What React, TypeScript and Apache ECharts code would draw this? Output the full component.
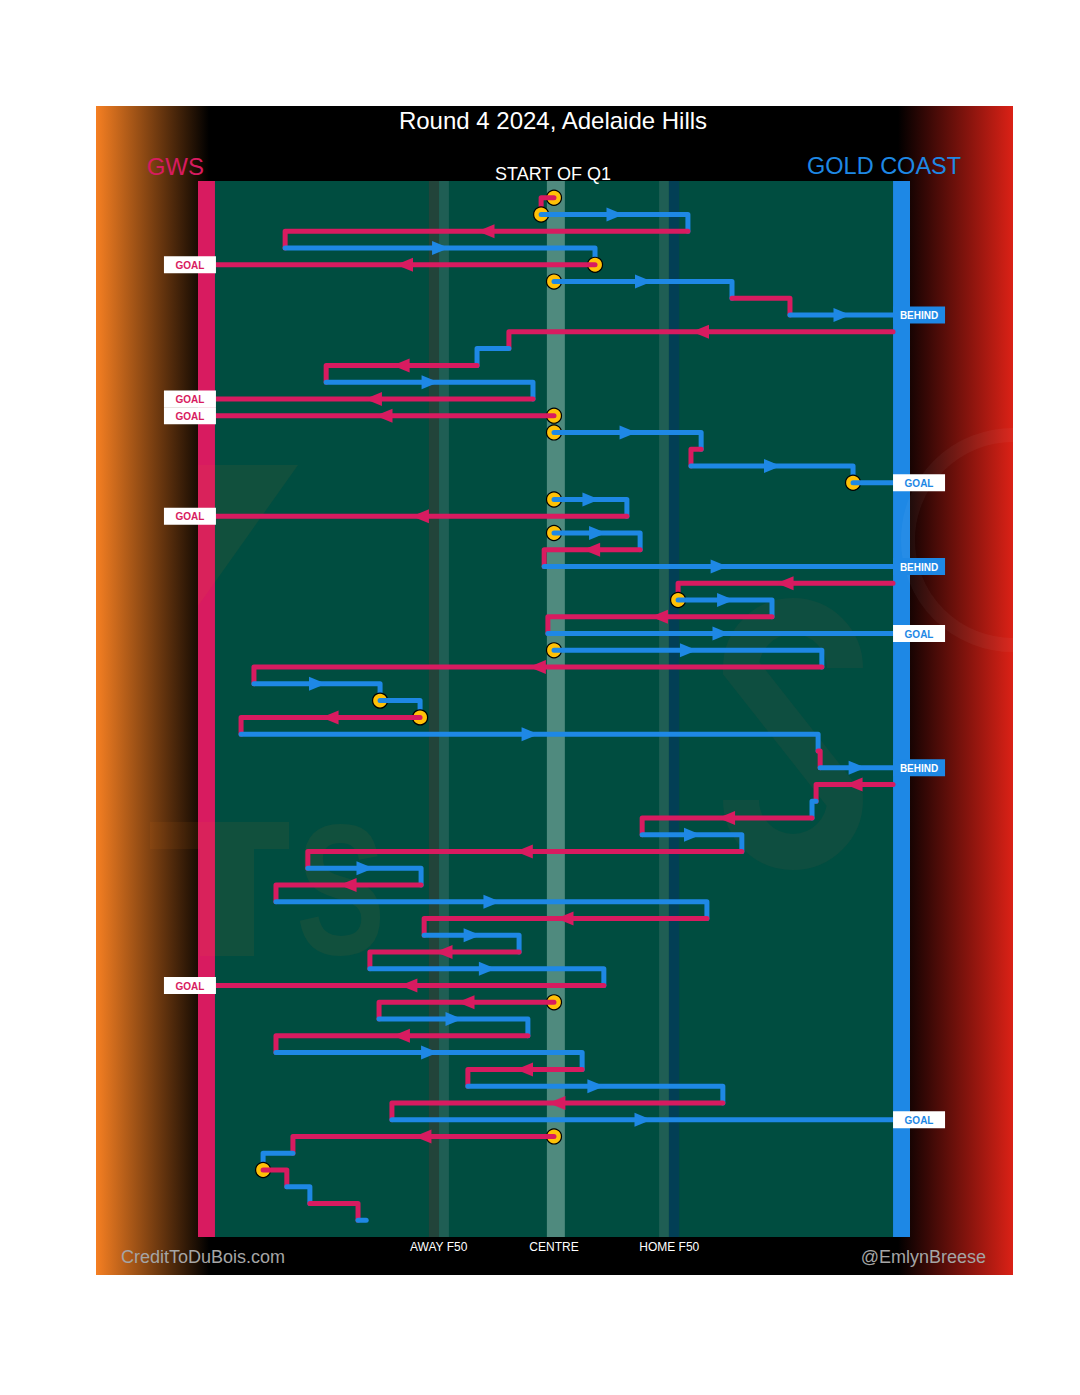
import React, { useEffect, useRef } from "react";
import * as echarts from "echarts";

// ---------- DATA ----------
// One possession segment per row (row = index + 1), x in % of half-field (-100 = GWS goal, 100 = Gold Coast goal)
const segTeam = [
  "GWS", "GCS", "GWS", "GCS", "GWS", "GCS", "GWS", "GCS", "GWS", "GCS",
  "GWS", "GCS", "GWS", "GWS", "GCS", "GWS", "GCS", "GCS", "GCS", "GWS",
  "GCS", "GWS", "GCS", "GWS", "GCS", "GWS", "GCS", "GCS", "GWS", "GCS",
  "GCS", "GWS", "GCS", "GWS", "GCS", "GWS", "GCS", "GWS", "GCS", "GWS",
  "GCS", "GWS", "GCS", "GWS", "GCS", "GWS", "GCS", "GWS", "GWS", "GCS",
  "GWS", "GCS", "GWS", "GCS", "GWS", "GCS", "GWS", "GCS", "GWS", "GCS",
  "GWS", "GCS",
];
const segFrom = [
  0, -3.8, 39.5, -79.3, 12.1, 0, 52.5, 69.6, 100, -13.3,
  -22.7, -67.2, -6.2, 0, 0, 43.4, 40.4, 88.2, 0, 21.5,
  0, 25.4, -2.9, 100, 36.6, 64.3, -1.8, 0, 79.0, -88.5,
  -51.3, -39.5, -92.3, 77.9, 78.5, 100, 77.3, 76.1, 26.0, 55.4,
  -72.6, -39.2, -82.0, 45.1, -38.3, -10.3, -54.3, 14.7, 0, -51.6,
  -7.7, -82.0, 8.3, -25.4, 49.8, -47.8, 0, -77.0, -85.8, -78.8,
  -72.0, -57.8,
];
const segTo = [
  -3.8, 39.5, -79.3, 12.1, -100, 52.5, 69.6, 100, -13.3, -22.7,
  -67.2, -6.2, -100, -100, 43.4, 40.4, 88.2, 100, 21.5, -100,
  25.4, -2.9, 100, 36.6, 64.3, -1.8, 100, 79.0, -88.5, -51.3,
  -39.5, -92.3, 77.9, 78.5, 100, 77.3, 76.1, 26.0, 55.4, -72.6,
  -39.2, -82.0, 45.1, -38.3, -10.3, -54.3, 14.7, -100, -51.6, -7.7,
  -82.0, 8.3, -25.4, 49.8, -47.8, 100, -77.0, -85.8, -78.8, -72.0,
  -57.8, -55.4,
];
const segResult = [
  "", "", "", "", "GOAL", "", "", "BEHIND", "", "",
  "", "", "GOAL", "GOAL", "", "", "", "GOAL", "", "GOAL",
  "", "", "BEHIND", "", "", "", "GOAL", "", "", "",
  "", "", "", "", "BEHIND", "", "", "", "", "",
  "", "", "", "", "", "", "", "GOAL", "", "",
  "", "", "", "", "", "GOAL", "", "", "", "",
  "", "",
];
// 1 = segment starts at a stoppage (centre bounce / ball-up)
const segStoppage = [
  1, 1, 0, 0, 1, 1, 0, 0, 0, 0,
  0, 0, 0, 1, 1, 0, 0, 1, 1, 0,
  1, 0, 0, 0, 1, 0, 0, 1, 0, 0,
  1, 1, 0, 0, 0, 0, 0, 0, 0, 0,
  0, 0, 0, 0, 0, 0, 0, 0, 1, 0,
  0, 0, 0, 0, 0, 0, 1, 0, 1, 0,
  0, 0,
];

const tickValues = [-34, 0, 34];
const tickLabels = ["AWAY F50", "CENTRE", "HOME F50"];

// field bands: background, end bars, F50 and centre stripes
const bandFrom = [-105, -105, -36.9, -33.9, -2.1, 31.0, 33.9, 100];
const bandTo = [105, -100, -33.9, -31.0, 3.2, 33.9, 36.9, 105];
const bandColor = ["#004D40", "#D81B60", "#22443A", "#1F5E54", "#4F8A7E", "#1F5E54", "#023F55", "#1E88E5"];

const TEAM_COLORS: Record<string, string> = { GWS: "#D81B60", GCS: "#1E88E5" };
const FONT = '"Liberation Sans", Arial, sans-serif';
const ROWS_MAX = 63;

const S_PATH = "M 845 668 A 52 52 0 0 0 741 668 L 845 800 A 52 52 0 0 1 741 800";

function txt(text: string, x: number, y: number, size: number, fill: string, align: string, weight = "normal") {
  return {
    type: "text",
    z: 5,
    style: {
      text, x, y, fill,
      font: `${weight} ${size}px ${FONT}`,
      align, textAlign: align,
      verticalAlign: "middle", textVerticalAlign: "middle",
    },
  };
}

export default function App() {
  const ref = useRef<HTMLDivElement>(null);

  useEffect(() => {
    const el = ref.current;
    if (!el) return;
    try {
      echarts.graphic.registerShape("sunsS", echarts.graphic.extendPath(S_PATH, {}) as any);
    } catch (e) {}
    const chart = echarts.init(el, null, { renderer: "svg" });

    const wmOrange = "rgba(244,123,32,0.07)";
    const wmSuns = "rgba(240,110,60,0.06)";

    const option: any = {
      animation: false,
      backgroundColor: "#ffffff",
      grid: { left: 198, right: 170, top: 181, bottom: 158, containLabel: false },
      xAxis: {
        type: "value",
        min: -105,
        max: 105,
        z: 10,
        axisLine: { show: false },
        axisTick: { show: false },
        splitLine: { show: false },
        axisLabel: {
          customValues: tickValues,
          formatter: (v: number) => {
            const idx = tickValues.indexOf(v);
            return idx >= 0 ? tickLabels[idx] : "";
          },
          color: "#ffffff",
          fontSize: 12,
          fontFamily: FONT,
          margin: 4,
        },
      },
      yAxis: { type: "value", inverse: true, min: 0, max: ROWS_MAX, show: false },
      graphic: [
        { type: "rect", z: 0, z2: 0, shape: { x: 96, y: 106, width: 917, height: 1169 }, style: { fill: "#000" } },
        {
          type: "rect", z: 0, z2: 1, shape: { x: 96, y: 106, width: 113, height: 1169 },
          style: { fill: { type: "linear", x: 0, y: 0, x2: 1, y2: 0, colorStops: [{ offset: 0, color: "#F57F22" }, { offset: 1, color: "#000000" }] } },
        },
        {
          type: "rect", z: 0, z2: 1, shape: { x: 898, y: 106, width: 115, height: 1169 },
          style: { fill: { type: "linear", x: 0, y: 0, x2: 1, y2: 0, colorStops: [{ offset: 0, color: "#000000" }, { offset: 1, color: "#DB2116" }] } },
        },
        // watermarks
        { type: "polygon", z: 2, shape: { points: [[198, 465], [298, 465], [198, 606]] }, style: { fill: wmOrange } },
        { type: "rect", z: 2, shape: { x: 150, y: 822, width: 139, height: 27 }, style: { fill: wmOrange } },
        { type: "rect", z: 2, shape: { x: 200, y: 849, width: 54, height: 107 }, style: { fill: wmOrange } },
        {
          type: "text", z: 2, scaleX: 0.72, x: 296, y: 889,
          style: { text: "S", x: 0, y: 0, fill: wmOrange, font: `bold 186px ${FONT}`, align: "left", textAlign: "left", verticalAlign: "middle", textVerticalAlign: "middle" },
        },
        {
          type: "arc", z: 2,
          shape: { cx: 1013, cy: 540, r: 105, startAngle: Math.PI / 2, endAngle: (Math.PI * 3) / 2 },
          style: { stroke: "rgba(255,255,255,0.04)", lineWidth: 14, fill: "none" },
        },
        { type: "sunsS", z: 2, style: { stroke: wmSuns, lineWidth: 36, fill: "none" } },
        // texts
        txt("Round 4 2024, Adelaide Hills", 553, 120, 24, "#ffffff", "center"),
        txt("GWS", 204, 166, 24, "#D81B60", "right"),
        txt("GOLD COAST", 807, 166, 23.5, "#1E88E5", "left"),
        txt("START OF Q1", 553, 174, 18, "#ffffff", "center"),
        txt("CreditToDuBois.com", 121, 1257, 18, "#A5A5A5", "left"),
        txt("@EmlynBreese", 986, 1257, 18, "#A5A5A5", "right"),
      ],
      series: [
        {
          type: "custom",
          name: "field",
          z: 1,
          silent: true,
          data: bandFrom.map((f, i) => [f, bandTo[i], 0, ROWS_MAX, i]),
          encode: { x: [0, 1], y: [2, 3] },
          renderItem: (params: any, api: any) => {
            const i = api.value(4) as number;
            const a = api.coord([api.value(0), api.value(2)]);
            const b = api.coord([api.value(1), api.value(3)]);
            return {
              type: "rect",
              z2: i,
              shape: {
                x: Math.min(a[0], b[0]),
                y: Math.min(a[1], b[1]),
                width: Math.abs(b[0] - a[0]),
                height: Math.abs(b[1] - a[1]),
              },
              style: { fill: bandColor[i] },
            };
          },
        },
        {
          type: "custom",
          name: "chain",
          z: 3,
          silent: true,
          data: segTeam.map((_, i) => [i + 1, segFrom[i], segTo[i], i]),
          encode: { x: [1, 2], y: 0 },
          renderItem: (params: any, api: any) => {
            const k = api.value(0) as number;
            const from = api.value(1) as number;
            const to = api.value(2) as number;
            const i = api.value(3) as number;
            const p0 = api.coord([from, k]);
            const p1 = api.coord([to, k]);
            const color = TEAM_COLORS[segTeam[i]];
            const children: any[] = [];
            if (segStoppage[i]) {
              children.push({
                type: "circle", z2: i * 3,
                shape: { cx: p0[0], cy: p0[1], r: 7.5 },
                style: { fill: "#FFC107", stroke: "#000000", lineWidth: 1.2 },
              });
            }
            const pts = [p0, p1];
            if (i + 1 < segTeam.length && !segResult[i]) pts.push(api.coord([to, k + 1]));
            children.push({
              type: "polyline", z2: i * 3 + 1,
              shape: { points: pts },
              style: { stroke: color, lineWidth: 5, fill: "none", lineCap: "round", lineJoin: "round" },
            });
            const len = p1[0] - p0[0];
            if (Math.abs(len) > 65) {
              const d = Math.sign(len);
              const m = (p0[0] + p1[0]) / 2;
              const y = p0[1];
              children.push({
                type: "polygon", z2: i * 3 + 2,
                shape: { points: [[m - d * 8, y - 7], [m - d * 8, y + 7], [m + d * 9, y]] },
                style: { fill: color },
              });
            }
            return { type: "group", children };
          },
        },
        {
          type: "custom",
          name: "results",
          z: 4,
          silent: true,
          data: segResult
            .map((r, i) => (r ? [segTo[i], i + 1, i] : null))
            .filter((d) => d !== null),
          encode: { x: 0, y: 1 },
          renderItem: (params: any, api: any) => {
            const x = api.value(0) as number;
            const k = api.value(1) as number;
            const i = api.value(2) as number;
            const p = api.coord([x, k]);
            const bw = 52;
            const bh = 17;
            const bx = x < 0 ? p[0] - bw + 1 : p[0];
            const color = TEAM_COLORS[segTeam[i]];
            const isGoal = segResult[i] === "GOAL";
            return {
              type: "group",
              children: [
                { type: "rect", shape: { x: bx, y: p[1] - bh / 2, width: bw, height: bh }, style: { fill: isGoal ? "#ffffff" : color } },
                {
                  type: "text",
                  style: {
                    text: segResult[i], x: bx + bw / 2, y: p[1] + 0.5,
                    fill: isGoal ? color : "#ffffff",
                    font: `bold 10px ${FONT}`,
                    align: "center", textAlign: "center",
                    verticalAlign: "middle", textVerticalAlign: "middle",
                  },
                },
              ],
            };
          },
        },
      ],
    };

    chart.setOption(option);
    return () => chart.dispose();
  }, []);

  return (
    <div
      ref={ref}
      style={{ position: "absolute", left: 0, top: 0, width: 1080, height: 1395, background: "#ffffff" }}
    />
  );
}
